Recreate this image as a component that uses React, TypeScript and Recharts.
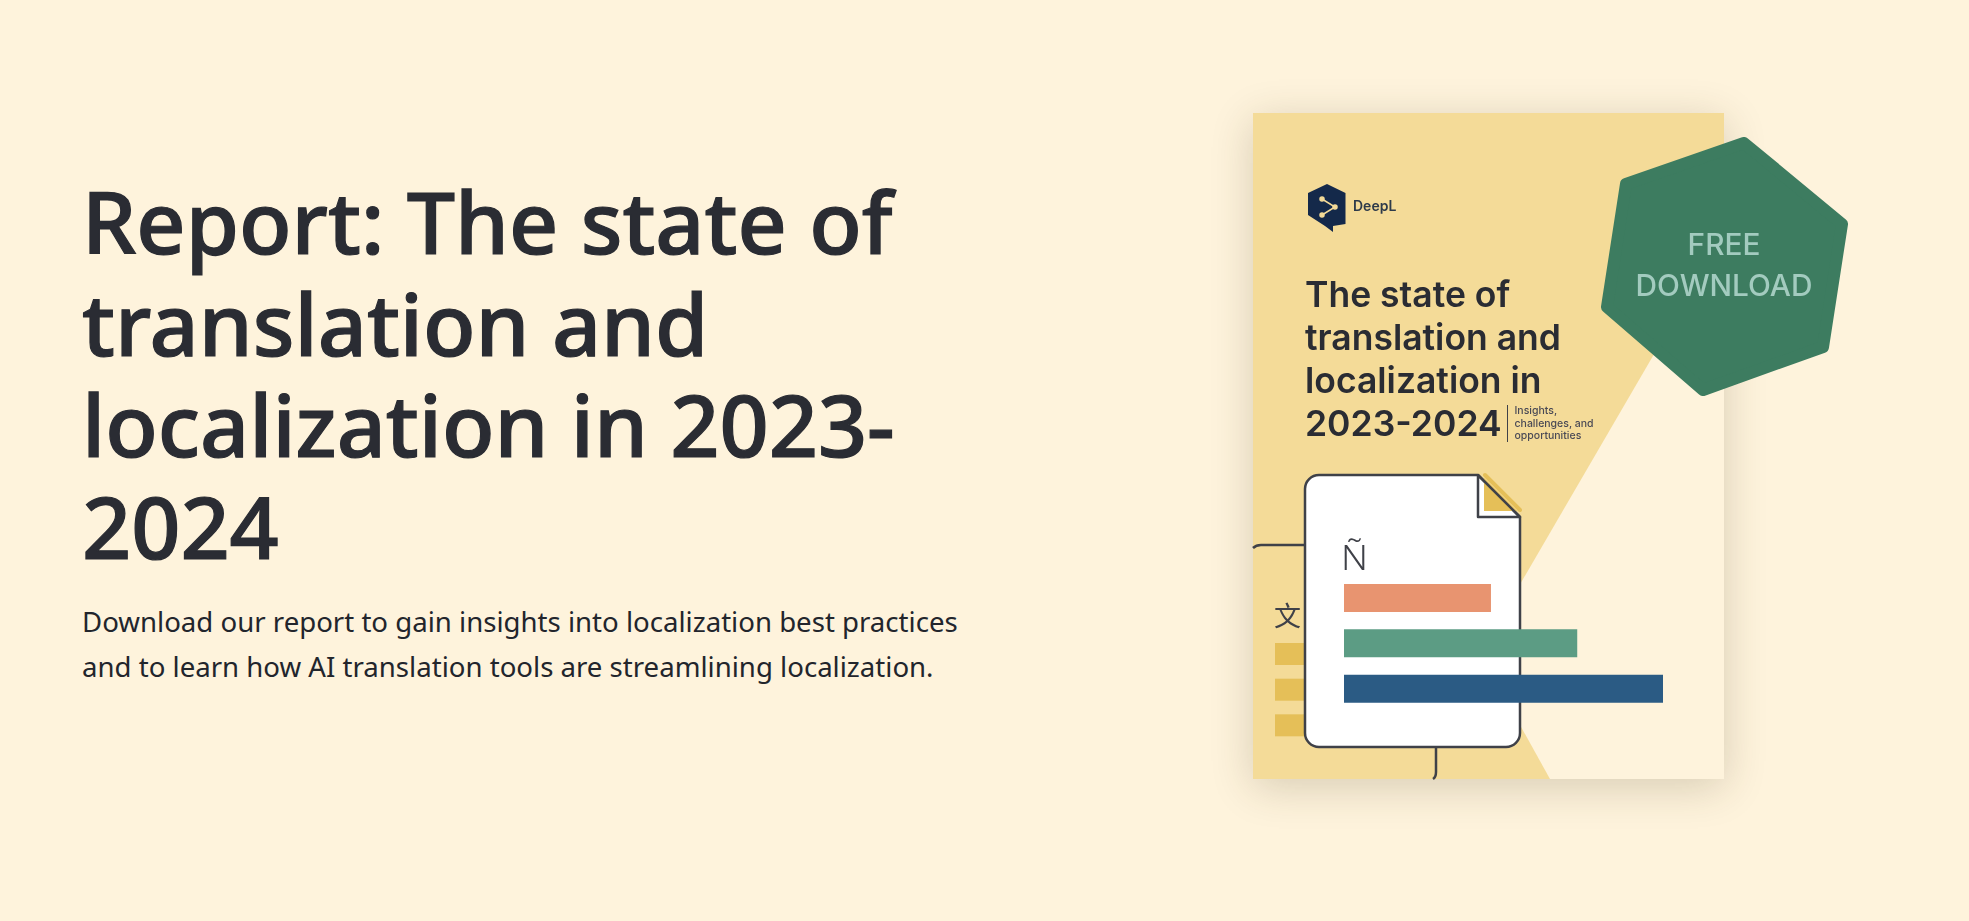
import { BarChart, Bar, XAxis, YAxis, Cell } from "recharts";

const titleLines = ["Report: The state of", "translation and", "localization in 2023-", "2024"];
const bodyLines = [
  "Download our report to gain insights into localization best practices",
  "and to learn how AI translation tools are streamlining localization.",
];
const coverTitleLines = ["The state of", "translation and", "localization in", "2023-2024"];
const coverSubLines = ["Insights,", "challenges, and", "opportunities"];
const badgeLines = ["FREE", "DOWNLOAD"];

const docCategories = ["orange", "green", "blue"];
const docValues = [46, 73, 100];
const docColors = ["#E89470", "#5C9C84", "#2B5B84"];

const sourceCategories = ["first", "second", "third"];
const sourceValues = [100, 100, 100];

const docData = docCategories.map((name, i) => ({ name, value: docValues[i] }));
const sourceData = sourceCategories.map((name, i) => ({ name, value: sourceValues[i] }));

const PAGE_BG = "#FEF3DC";
const COVER_BG = "#F4DB98";
const YELLOW = "#E5BF58";
const LINE = "#3F4148";
const INK = "#2A2C33";
const layer = { position: "absolute", left: 0, top: 0 } as const;
const soft = { ...layer, filter: "blur(0.5px)" };

const CoverBack = () => (
  <svg width={1969} height={921} style={soft}>
    <polygon points="1724,234 1480,653 1550,779 1724,779" fill={PAGE_BG} />
    <path d="M1253 548 q3 -3 8 -3 H1305" fill="none" stroke={LINE} strokeWidth={2.5} />
    <path d="M1436 747 V772 q0 5 -3 7" fill="none" stroke={LINE} strokeWidth={2.5} />
    <text x={1274} y={626} fontFamily="'Noto Sans CJK SC'" fontWeight={400} fontSize={27} fill={LINE}>文</text>

    {/* logo */}
    <polygon points="1327,184 1345.5,193 1345.5,224 1333,226 1333,232 1325,226 1308,215 1308,193" fill="#14294A" />
    <g stroke="#F4DB98" strokeWidth={1.5} fill="#F4DB98">
      <path d="M1322 199 L1335 207 L1322 215" fill="none" />
      <circle cx={1322} cy={199} r={2} />
      <circle cx={1335} cy={207} r={2} />
      <circle cx={1322} cy={215} r={2} />
    </g>
    <text x={1353} y={211} fontFamily="Inter" fontWeight={600} fontSize={14} fill="#2D3A4A">DeepL</text>

    {coverTitleLines.map((line, i) => (
      <text key={line} x={1305} y={307 + i * 43} fontFamily="Inter" fontWeight={600} fontSize={35.5} fill={INK}>{line}</text>
    ))}
    <line x1={1507.5} x2={1507.5} y1={405} y2={442} stroke={LINE} strokeWidth={1} />
    {coverSubLines.map((line, i) => (
      <text key={line} x={1514.5} y={414 + i * 12.6} fontFamily="Inter" fontWeight={500} fontSize={10.5} fill="#4A4A55">{line}</text>
    ))}
  </svg>
);

const DocSheet = () => (
  <svg width={1969} height={921} style={soft}>
    <path
      d="M1319 475 H1478 L1520 517 V733 a14 14 0 0 1 -14 14 H1319 a14 14 0 0 1 -14 -14 V489 a14 14 0 0 1 14 -14 Z"
      fill="#FFFFFF"
      stroke={LINE}
      strokeWidth={2.5}
    />
    <polygon points="1484,478 1484,511 1517,511" fill={YELLOW} />
    <line x1={1485} y1={475} x2={1520} y2={510} stroke={YELLOW} strokeWidth={4} strokeLinecap="round" />
    <path d="M1478 475 V517 H1520 L1478 475" fill="none" stroke={LINE} strokeWidth={2.5} strokeLinejoin="round" />
    <text x={1341} y={570} fontFamily="'Noto Sans'" fontWeight={300} fontSize={34} fill={LINE} textLength={27} lengthAdjust="spacingAndGlyphs">Ñ</text>
  </svg>
);

const Badge = () => (
  <svg width={1969} height={921} style={soft}>
    <polygon
      points="1744,143 1842,224 1823,347 1703,390 1607,307 1626,184"
      fill="#3D7C60"
      stroke="#3D7C60"
      strokeWidth={12}
      strokeLinejoin="round"
    />
    {badgeLines.map((line, i) => (
      <text key={line} x={1724} y={255 + i * 41} textAnchor="middle" fontFamily="Inter" fontWeight={500} fontSize={29.8} fill="#A3CBBF">{line}</text>
    ))}
  </svg>
);

export default function App() {
  return (
    <div style={{ position: "absolute", left: 0, top: 0, width: 1969, height: 921, background: PAGE_BG, overflow: "hidden" }}>
      <div
        style={{
          position: "absolute",
          left: 82,
          top: 170,
          whiteSpace: "pre",
          fontFamily: "'Noto Sans'",
          fontWeight: 500,
          fontSize: 86,
          lineHeight: "101.7px",
          color: INK,
          WebkitTextStroke: `1.2px ${INK}`,
        }}
      >
        {titleLines.join("\n")}
      </div>
      <div
        style={{
          position: "absolute",
          left: 82,
          top: 599,
          whiteSpace: "pre",
          fontFamily: "'Noto Sans'",
          fontSize: 27.6,
          lineHeight: "45px",
          color: "#22252C",
        }}
      >
        {bodyLines.join("\n")}
      </div>

      <div style={{ ...layer, left: 1253, top: 113, width: 471, height: 666, background: COVER_BG, boxShadow: "0 8px 40px rgba(60,50,20,0.2)" }} />
      <CoverBack />

      <div style={{ ...layer, left: 1275, top: 636 }}>
        <BarChart width={32} height={107} layout="vertical" data={sourceData} margin={{ top: 0, right: 0, bottom: 0, left: 0 }}>
          <XAxis type="number" domain={[0, 100]} hide />
          <YAxis type="category" dataKey="name" hide />
          <Bar dataKey="value" fill={YELLOW} barSize={22} isAnimationActive={false} />
        </BarChart>
      </div>

      <DocSheet />

      <div style={{ ...layer, left: 1343.5, top: 575 }}>
        <BarChart width={319.5} height={136} layout="vertical" data={docData} margin={{ top: 0, right: 0, bottom: 0, left: 0 }}>
          <XAxis type="number" domain={[0, 100]} hide />
          <YAxis type="category" dataKey="name" hide />
          <Bar dataKey="value" barSize={28} isAnimationActive={false}>
            {docData.map((d, i) => (
              <Cell key={d.name} fill={docColors[i]} />
            ))}
          </Bar>
        </BarChart>
      </div>

      <Badge />
    </div>
  );
}
